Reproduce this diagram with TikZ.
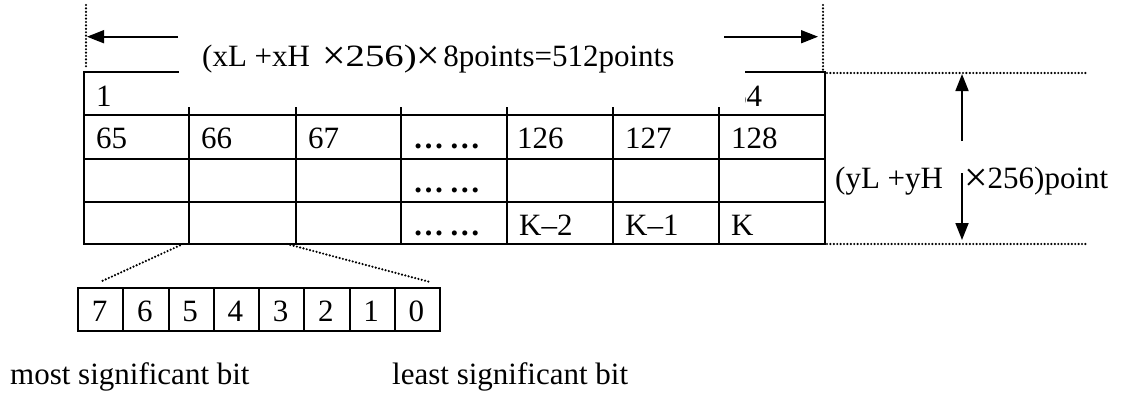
\documentclass[tikz,border=0pt]{standalone}
\usepackage{fontspec}
\setmainfont{Liberation Serif}
\usetikzlibrary{arrows.meta}
\newcommand{\bigx}{\raisebox{-3.5pt}{\scalebox{1.35}{×}}}
\tikzset{
  gridline/.style={line width=2.2pt},
  dotline/.style={line width=2.4pt, dash pattern=on 0pt off 3.4pt, line cap=round},
  dimarrow/.style={line width=1.7pt, -{Triangle[length=17pt,width=13pt]}},
  txt/.style={anchor=base west, inner sep=0pt, font=\fontsize{31}{37}\selectfont},
  ctxt/.style={anchor=base, inner sep=0pt, font=\fontsize{31}{37}\selectfont},
  bitbox/.style={draw, line width=2.2pt, minimum width=45.25pt, minimum height=43pt, inner sep=0pt, anchor=north west},
}
\begin{document}
\begin{tikzpicture}[x=1pt,y=-1pt]
\useasboundingbox (0,0) rectangle (1123,392);
% table
\draw[gridline] (84,72) rectangle (825,244);
\foreach \yy in {115,159,202} \draw[gridline] (84,\yy) -- (825,\yy);
\foreach \xx in {189,296,401,507,613,719} \draw[gridline] (\xx,72) -- (\xx,244);
% cell texts
\node[txt] (c1) at (96,106) {1};
\node[txt] (c64) at (731,106) {64};
\node[txt] (c65) at (96,148) {65};
\node[txt] (c66) at (201,148) {66};
\node[txt] (c67) at (308,148) {67};
\node[txt] (d2) at (413,148) {\textbf{…\,…}};
\node[txt] (c126) at (517,148) {126};
\node[txt] (c127) at (625,148) {127};
\node[txt] (c128) at (731,148) {128};
\node[txt] (d3) at (413,192) {\textbf{…\,…}};
\node[txt] (d4) at (413,235) {\textbf{…\,…}};
\node[txt] (k2) at (519,235) {K–2};
\node[txt] (k1) at (625,235) {K–1};
\node[txt] (k0) at (731,235) {K};
% title mask and title
\fill[white] (179,41) rectangle (745,107);
\node[txt] (title) at (202,66) {(xL +xH\hspace{12pt}\bigx\scalebox{1.25}[1]{256)}\bigx\hspace{3pt}8points=512points};
% horizontal dimension
\draw[dotline] (86,5) -- (86,69);
\draw[dotline] (823,5) -- (823,72);
\coordinate (lA) at (178,36.7);
\coordinate (lB) at (87,36.7);
\coordinate (rA) at (724,36.7);
\coordinate (rB) at (818,36.7);
\draw[dimarrow] (lA) -- (lB);
\draw[dimarrow] (rA) -- (rB);
% vertical dimension
\draw[dotline] (827,73) -- (1087,73);
\draw[dotline] (827,244) -- (1087,244);
\node[txt] (ylabel) at (835,188) {(yL +yH\hspace{21pt}\bigx 256)point};
\coordinate (uA) at (962,141);
\coordinate (uB) at (962,74);
\coordinate (dA) at (962,173);
\coordinate (dB) at (962,240);
\draw[dimarrow] (uA) -- (uB);
\draw[dimarrow] (dA) -- (dB);
% bit boxes
\foreach \i/\b in {0/7,1/6,2/5,3/4,4/3,5/2,6/1,7/0} {
  \node[bitbox] (bit\b) at ({77+\i*45.25},287) {};
  \node[ctxt] (bt\b) at ({77+\i*45.25+22.6},321) {\b};
}
\coordinate (zl1) at (183,244);
\coordinate (zl2) at (100,282);
\coordinate (zr1) at (287,244);
\coordinate (zr2) at (430,282);
\draw[dotline] (zl1) -- (zl2);
\draw[dotline] (zr1) -- (zr2);
% bottom labels
\node[txt] (msb) at (10,384) {most significant bit};
\node[txt] (lsb) at (392,384) {least significant bit};
\end{tikzpicture}
\end{document}
